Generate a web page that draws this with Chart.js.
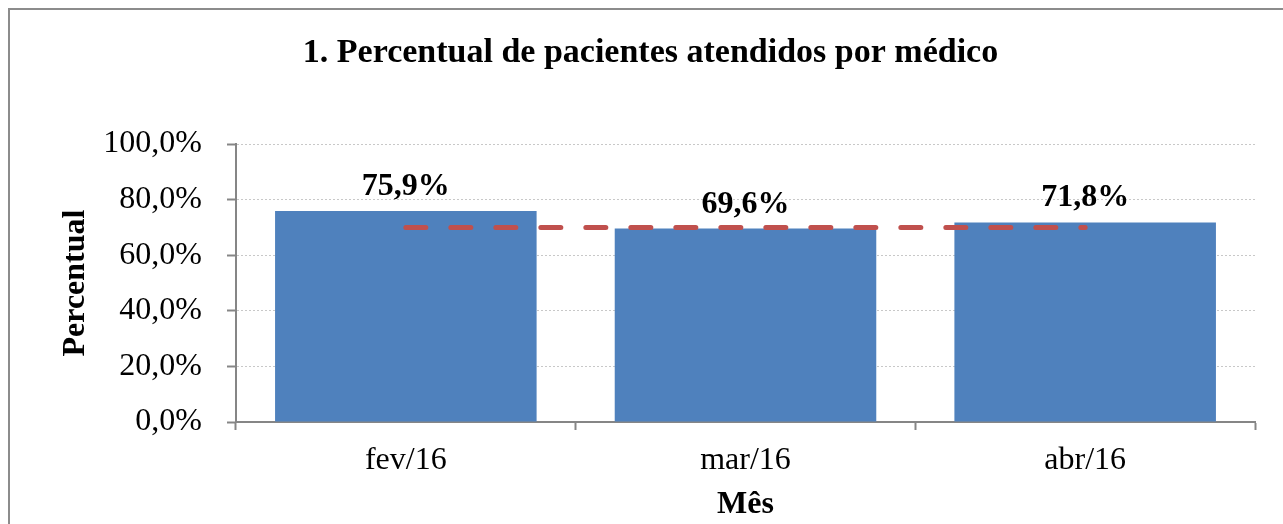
<!DOCTYPE html>
<html>
<head>
<meta charset="utf-8">
<script src="https://cdn.jsdelivr.net/npm/chart.js@4"></script>
<style>
  body { margin: 0; background: #fff; overflow: hidden; }
  .moldura { position: absolute; left: 8px; top: 8px; width: 1400px; height: 700px; border: 2px solid #8c8c8c; }
  .caixa { position: absolute; left: 0; top: 0; width: 1283px; height: 524px; }
</style>
</head>
<body>
<div class="moldura"></div>
<div class="caixa"><canvas class="meu-grafico"></canvas></div>
<script>
// dados
const meses = ['fev/16', 'mar/16', 'abr/16']
const percentual = [75.9, 69.6, 71.8]
const meta = [70, 70, 70]
const ticksY = [0, 20, 40, 60, 80, 100]

const fonte = 'Liberation Serif, Times New Roman, serif'

function formata(v) {
    return v.toFixed(1).replace('.', ',') + '%'
}

// rotulos em cima das barras
const rotulos = {
    id: 'rotulos',
    afterDatasetsDraw(chart) {
        const ctx = chart.ctx
        const barras = chart.getDatasetMeta(1)
        ctx.save()
        ctx.font = 'bold 32px ' + fonte
        ctx.fillStyle = '#000'
        ctx.textAlign = 'center'
        ctx.textBaseline = 'alphabetic'
        barras.data.forEach((b, i) => {
            ctx.fillText(formata(percentual[i]), b.x, b.y - 16)
        })
        ctx.restore()
    }
}

const myChart = document.querySelector('.meu-grafico');
new Chart(myChart, {
    data: {
        labels: meses,
        datasets: [
            {
                type: 'line',
                data: meta,
                borderColor: '#c0504d',
                borderWidth: 5,
                borderDash: [20, 25],
                borderCapStyle: 'round',
                pointRadius: 0,
                fill: false,
                order: 0
            },
            {
                type: 'bar',
                data: percentual,
                backgroundColor: '#4f81bd',
                borderColor: '#4f81bd',
                barPercentage: 0.77,
                categoryPercentage: 1,
                order: 1
            }
        ]
    },
    options: {
        responsive: true,
        maintainAspectRatio: false,
        animation: false,
        layout: { padding: { left: 46, right: 28, top: 0, bottom: 0 } },
        plugins: {
            legend: { display: false },
            tooltip: { enabled: false },
            title: {
                display: true,
                text: '1. Percentual de pacientes atendidos por médico',
                color: '#000',
                font: { family: fonte, size: 34, weight: 'bold' },
                padding: { top: 32.6, bottom: 70.6 }
            }
        },
        scales: {
            x: {
                offset: true,
                grid: { offset: true, drawOnChartArea: false, tickLength: 8, tickColor: '#868686', tickWidth: 2 },
                border: { color: '#868686', width: 2 },
                ticks: { color: '#000', font: { family: fonte, size: 32 }, padding: 11 },
                title: { display: true, text: 'Mês', color: '#000', font: { family: fonte, size: 32, weight: 'bold' }, padding: { top: 0, bottom: 0 } },
                afterFit(s) { s.height = 102 }
            },
            y: {
                min: 0,
                max: 100,
                afterBuildTicks(s) { s.ticks = ticksY.map(v => ({ value: v })) },
                grid: { color: '#c8c8c8', lineWidth: 1, tickLength: 9, tickColor: '#868686', tickWidth: 2, tickBorderDash: [] },
                border: { color: '#868686', width: 2, dash: [2, 2] },
                ticks: { color: '#000', font: { family: fonte, size: 32 }, padding: 25, callback: v => formata(v) },
                title: { display: true, text: 'Percentual', color: '#000', font: { family: fonte, size: 32, weight: 'bold' }, padding: { top: 11, bottom: 0 } },
                afterFit(s) { s.width = 190 }
            }
        }
    },
    plugins: [rotulos]
});
</script>
</body>
</html>
